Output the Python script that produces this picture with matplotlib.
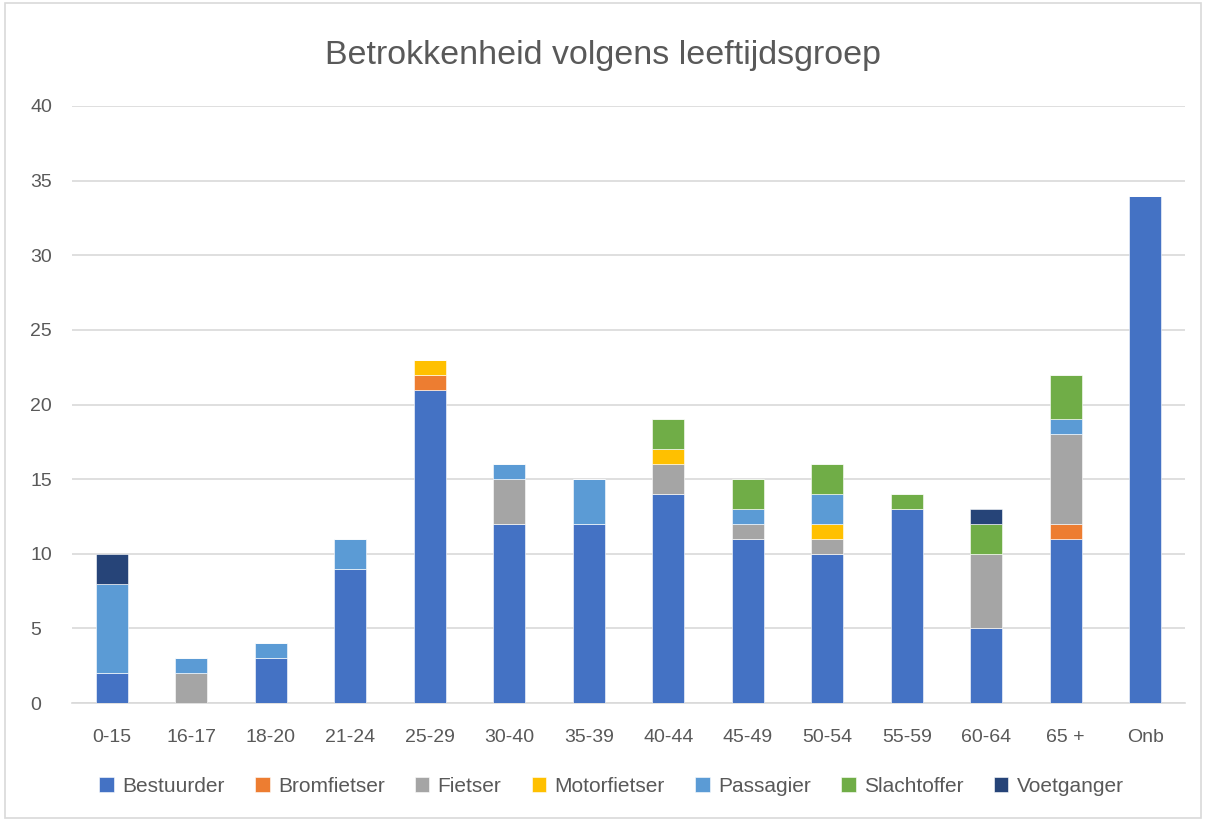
import numpy as np
import matplotlib.pyplot as plt
from matplotlib.patches import Rectangle

plt.rcParams['font.family'] = ['Liberation Sans', 'DejaVu Sans']

groups = ['0-15', '16-17', '18-20', '21-24', '25-29', '30-40', '35-39',
          '40-44', '45-49', '50-54', '55-59', '60-64', '65 +', 'Onb']

bestuurder = [2, 0, 3, 9, 21, 12, 12, 14, 11, 10, 13, 5, 11, 34]
bromfietser = [0, 0, 0, 0, 1, 0, 0, 0, 0, 0, 0, 0, 1, 0]
fietser = [0, 2, 0, 0, 0, 3, 0, 2, 1, 1, 0, 5, 6, 0]
motorfietser = [0, 0, 0, 0, 1, 0, 0, 1, 0, 1, 0, 0, 0, 0]
passagier = [6, 1, 1, 2, 0, 1, 3, 0, 1, 2, 0, 0, 1, 0]
slachtoffer = [0, 0, 0, 0, 0, 0, 0, 2, 2, 2, 1, 2, 3, 0]
voetganger = [2, 0, 0, 0, 0, 0, 0, 0, 0, 0, 0, 1, 0, 0]

series = [
    ('Bestuurder', bestuurder, '#4472C4'),
    ('Bromfietser', bromfietser, '#ED7D31'),
    ('Fietser', fietser, '#A5A5A5'),
    ('Motorfietser', motorfietser, '#FFC000'),
    ('Passagier', passagier, '#5B9BD5'),
    ('Slachtoffer', slachtoffer, '#70AD47'),
    ('Voetganger', voetganger, '#264478'),
]

text_col = '#595959'

fig = plt.figure(figsize=(12.06, 8.21), dpi=100)
ax = fig.add_axes([0.0597, 0.1437, 0.9229, 0.7272])

x = np.arange(len(groups))
bottom = np.zeros(len(groups))
for name, vals, col in series:
    vals = np.array(vals, dtype=float)
    ax.bar(x, vals, width=0.4, bottom=bottom, color=col, label=name,
           edgecolor='white', linewidth=0.4, zorder=3)
    bottom += vals

ax.set_xlim(-0.5, len(groups) - 0.5)
ax.set_ylim(0, 40)
ax.set_yticks(range(0, 41, 5))
ax.set_xticks(x)
ax.set_xticklabels(groups)
ax.grid(axis='y', color='#D9D9D9', linewidth=1.2, zorder=0)
for s in ['top', 'right', 'left']:
    ax.spines[s].set_visible(False)
ax.spines['bottom'].set_color('#D9D9D9')
ax.spines['bottom'].set_linewidth(1.2)
ax.tick_params(axis='both', length=0, labelsize=14, colors=text_col)
ax.tick_params(axis='y', pad=30)
ax.tick_params(axis='x', pad=19)
for lab in ax.get_yticklabels():
    lab.set_horizontalalignment('left')

fig.text(0.5, 0.933, 'Betrokkenheid volgens leeftijdsgroep', ha='center',
         va='center', fontsize=24.5, color=text_col)

leg = fig.legend(loc='center', bbox_to_anchor=(0.507, 0.042), ncol=7,
                 frameon=False, fontsize=15, handlelength=0.7,
                 handleheight=0.7, handletextpad=0.4, columnspacing=1.45)
for t in leg.get_texts():
    t.set_color(text_col)

fig.patches.append(Rectangle((0.004, 0.004), 0.992, 0.992, transform=fig.transFigure,
                             fill=False, edgecolor='#D9D9D9', linewidth=1.2))

fig.savefig('out.png', dpi=100)
